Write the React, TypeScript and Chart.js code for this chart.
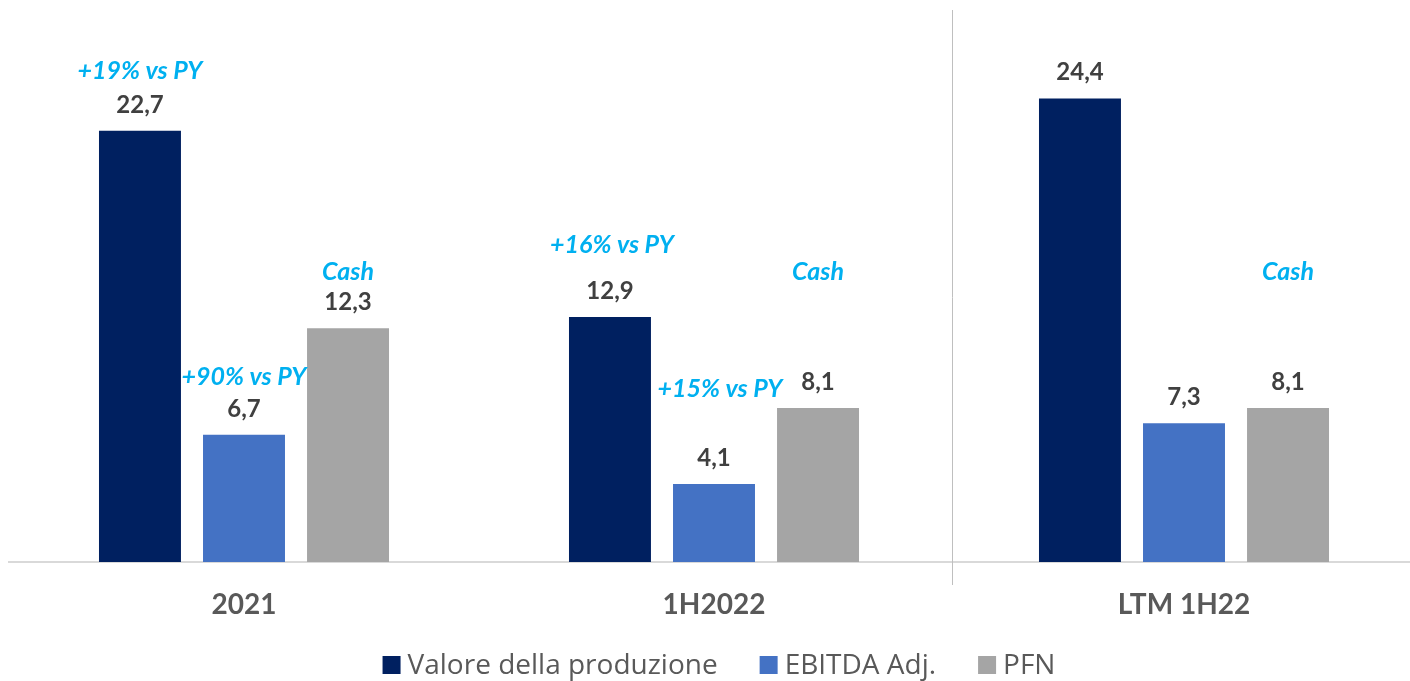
import React, { useEffect, useRef } from "react";
import { Chart, registerables } from "chart.js";

Chart.register(...registerables);

const categories = ["2021", "1H2022", "LTM 1H22"];
const seriesNames = ["Valore della produzione", "EBITDA Adj.", "PFN"];
const valoreProduzione = [22.7, 12.9, 24.4];
const ebitdaAdj = [6.7, 4.1, 7.3];
const pfn = [12.3, 8.1, 8.1];
const notesValore = ["+19% vs PY", "+16% vs PY", ""];
const notesEbitda = ["+90% vs PY", "+15% vs PY", ""];
const notesPfn = ["Cash", "Cash", "Cash"];

const COLORS = ["#002060", "#4472C4", "#A5A5A5"];
const FONT = "Lato, 'Open Sans', sans-serif";
const LEGEND_FONT = "'Open Sans', Lato, sans-serif";

// note placement: pixel distance of note centre above bar top, and x shift
const noteOffsets = [
  [61, 73, 0],
  [59, 96, 0],
  [57, 137, 137],
];
const noteShift = [
  [0, 2, 0],
  [0, 6, 0],
  [0, 0, 0],
];

const fmt = (v: number) => v.toFixed(1).replace(".", ",");

const labelPlugin = {
  id: "labelsAndNotes",
  afterDatasetsDraw(chart: any) {
    const ctx = chart.ctx;
    const notes = [notesValore, notesEbitda, notesPfn];
    ctx.save();
    ctx.textAlign = "center";
    ctx.textBaseline = "alphabetic";
    chart.data.datasets.forEach((ds: any, di: number) => {
      const meta = chart.getDatasetMeta(di);
      meta.data.forEach((bar: any, i: number) => {
        const v = ds.data[i];
        ctx.font = `bold 24px ${FONT}`;
        ctx.fillStyle = "#404040";
        ctx.fillText(fmt(v), bar.x, bar.y - 18);
        const note = notes[di][i];
        if (note) {
          ctx.font = `italic bold 25px ${FONT}`;
          ctx.fillStyle = "#00B0F0";
          ctx.fillText(note, bar.x + noteShift[di][i], bar.y - noteOffsets[di][i] + 9);
        }
      });
    });
    // separator line between 1H2022 and LTM
    const xs = chart.scales.x;
    const sx = Math.round((xs.getPixelForValue(1) + xs.getPixelForValue(2)) / 2 + 3) + 0.5;
    ctx.strokeStyle = "#BFBFBF";
    ctx.lineWidth = 1;
    ctx.beginPath();
    ctx.moveTo(sx, 10);
    ctx.lineTo(sx, 585);
    ctx.stroke();
    ctx.restore();
  },
  afterDraw(chart: any) {
    // legend
    const ctx = chart.ctx;
    ctx.save();
    ctx.font = `28px ${LEGEND_FONT}`;
    const box = 18, gapText = 7, gapItems = 42;
    const items = chart.data.datasets.map((ds: any) => ({
      text: ds.label,
      color: ds.backgroundColor,
      w: ctx.measureText(ds.label).width,
    }));
    const total = items.reduce((s: number, it: any) => s + box + gapText + it.w, 0) + gapItems * (items.length - 1);
    const cx = (chart.chartArea.left + chart.chartArea.right) / 2 + 5;
    const cy = 665;
    let x = cx - total / 2;
    ctx.textAlign = "left";
    ctx.textBaseline = "middle";
    items.forEach((it: any) => {
      ctx.fillStyle = it.color;
      ctx.fillRect(x, cy - box / 2, box, box);
      x += box + gapText;
      ctx.fillStyle = "#595959";
      ctx.fillText(it.text, x, cy + 1);
      x += it.w + gapItems;
    });
    ctx.restore();
  },
};

export default function App() {
  const ref = useRef<HTMLCanvasElement>(null);
  useEffect(() => {
    document.body.style.overflow = "hidden";
    const chart = new Chart(ref.current!, {
      type: "bar",
      data: {
        labels: categories,
        datasets: [
          { label: seriesNames[0], data: valoreProduzione, backgroundColor: COLORS[0] },
          { label: seriesNames[1], data: ebitdaAdj, backgroundColor: COLORS[1] },
          { label: seriesNames[2], data: pfn, backgroundColor: COLORS[2] },
        ],
      },
      options: {
        animation: false,
        responsive: false,
        maintainAspectRatio: false,
        layout: { padding: { left: 9, right: 1, top: 11, bottom: 64 } },
        datasets: { bar: { categoryPercentage: 0.664, barPercentage: 0.788 } },
        scales: {
          x: {
            grid: { display: false, drawTicks: false },
            border: { display: true, color: "#D9D9D9", width: 2 },
            ticks: { color: "#595959", font: { family: FONT, size: 28, weight: "bold" }, padding: 26 },
            afterFit: (s: any) => { s.height = 55; },
          },
          y: { display: false, min: 0, max: 29 },
        },
        plugins: {
          legend: { display: false },
          tooltip: { enabled: false },
        },
      },
      plugins: [labelPlugin],
    });
    return () => chart.destroy();
  }, []);
  return (
    <div style={{ position: "fixed", left: 0, top: 0, width: 1420, height: 681 }}>
      <canvas ref={ref} width={1420} height={681} />
    </div>
  );
}
